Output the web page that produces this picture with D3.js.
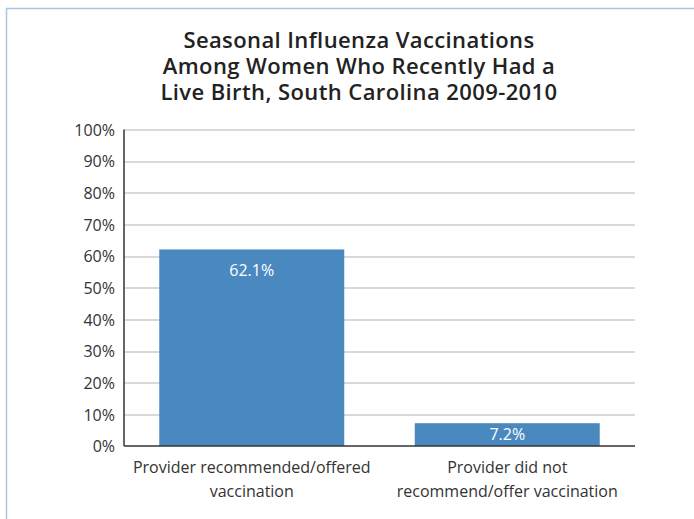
<!DOCTYPE html>
<html>
<head>
<meta charset="utf-8">
<script src="https://cdnjs.cloudflare.com/ajax/libs/d3/7.8.5/d3.min.js"></script>
<style>
  body { margin: 0; background: #fff; }
  svg { display: block; }
</style>
</head>
<body>
<div id="chart"></div>
<script>
// Flu vaccination by provider recommendation, SC 2009-2010

var categories = [
    ["Provider recommended/offered", "vaccination"],
    ["Provider did not", "recommend/offer vaccination"]
];
var values = [62.1, 7.2];
var tickValues = [0, 10, 20, 30, 40, 50, 60, 70, 80, 90, 100];
var titleLines = [
    "Seasonal Influenza Vaccinations",
    "Among Women Who Recently Had a",
    "Live Birth, South Carolina 2009-2010"
];

var width = 694, height = 519;
var margin = { top: 129.5, right: 59, bottom: 73, left: 124 };

var svg = d3.select("#chart").append("svg")
    .attr("width", width)
    .attr("height", height);

// light blue frame (top and left edges only visible)
svg.append("line")
    .attr("x1", 6).attr("y1", 8.5).attr("x2", width).attr("y2", 8.5)
    .attr("stroke", "#a9c6e6").attr("stroke-width", 1.5);
svg.append("line")
    .attr("x1", 6.5).attr("y1", 8).attr("x2", 6.5).attr("y2", height)
    .attr("stroke", "#a9c6e6").attr("stroke-width", 1.5);

var title = svg.append("text")
    .attr("text-anchor", "middle")
    .attr("font-family", "'Open Sans', sans-serif")
    .attr("font-weight", 600)
    .attr("font-size", 22)
    .attr("letter-spacing", 0.4)
    .attr("fill", "#222");
titleLines.forEach(function(t, i) {
    title.append("tspan")
        .attr("x", 359)
        .attr("y", 48 + i * 26)
        .text(t);
});

var plotW = width - margin.left - margin.right;
var plotH = height - margin.top - margin.bottom;

var g = svg.append("g")
    .attr("transform", "translate(" + margin.left + "," + margin.top + ")");

var x = d3.scaleBand()
    .domain(d3.range(values.length))
    .range([0, plotW])
    .paddingInner(0.276)
    .paddingOuter(0.138);

var y = d3.scaleLinear()
    .domain([0, 100])
    .range([plotH, 0]);

// gridlines
g.selectAll(".grid")
    .data(tickValues.filter(function(d) { return d > 0; }))
    .enter().append("line")
    .attr("class", "grid")
    .attr("x1", 0).attr("x2", plotW)
    .attr("y1", function(d) { return Math.round(y(d)) + 0.5; })
    .attr("y2", function(d) { return Math.round(y(d)) + 0.5; })
    .attr("stroke", "#b3b3b3")
    .attr("stroke-width", 1.2);

// y axis labels
var yAxis = d3.axisLeft(y)
    .tickValues(tickValues)
    .tickSize(0)
    .tickPadding(9)
    .tickFormat(function(d) { return d + "%"; });
var ya = g.append("g").call(yAxis);
ya.select(".domain").remove();
ya.selectAll("text")
    .attr("font-family", "'Open Sans', sans-serif")
    .attr("font-size", 16)
    .attr("fill", "#333")
    .attr("dy", "0.36em");

// bars
g.selectAll(".bar")
    .data(values)
    .enter().append("rect")
    .attr("class", "bar")
    .attr("x", function(d, i) { return x(i); })
    .attr("y", function(d) { return y(d); })
    .attr("width", x.bandwidth())
    .attr("height", function(d) { return plotH - y(d); })
    .attr("fill", "#4a89bf");

// value labels
g.selectAll(".val")
    .data(values)
    .enter().append("text")
    .attr("class", "val")
    .attr("x", function(d, i) { return x(i) + x.bandwidth() / 2; })
    .attr("y", function(d) { return d > 20 ? y(d) + 27 : y(d) + 17; })
    .attr("text-anchor", "middle")
    .attr("font-family", "'Open Sans', sans-serif")
    .attr("font-size", 16)
    .attr("fill", "#fff")
    .text(function(d) { return d.toFixed(1) + "%"; });

// axes lines
g.append("line")
    .attr("x1", 0).attr("x2", 0).attr("y1", 0).attr("y2", plotH)
    .attr("stroke", "#333").attr("stroke-width", 1.5);
g.append("line")
    .attr("x1", 0).attr("x2", plotW).attr("y1", plotH).attr("y2", plotH)
    .attr("stroke", "#333").attr("stroke-width", 1.5);

// category labels
g.selectAll(".cat")
    .data(categories)
    .enter().append("text")
    .attr("class", "cat")
    .attr("text-anchor", "middle")
    .attr("font-family", "'Open Sans', sans-serif")
    .attr("font-size", 16)
    .attr("fill", "#333")
    .each(function(d, i) {
        var t = d3.select(this);
        d.forEach(function(line, j) {
            t.append("tspan")
                .attr("x", x(i) + x.bandwidth() / 2)
                .attr("y", plotH + 27 + j * 24)
                .text(line);
        });
    });
</script>
</body>
</html>
